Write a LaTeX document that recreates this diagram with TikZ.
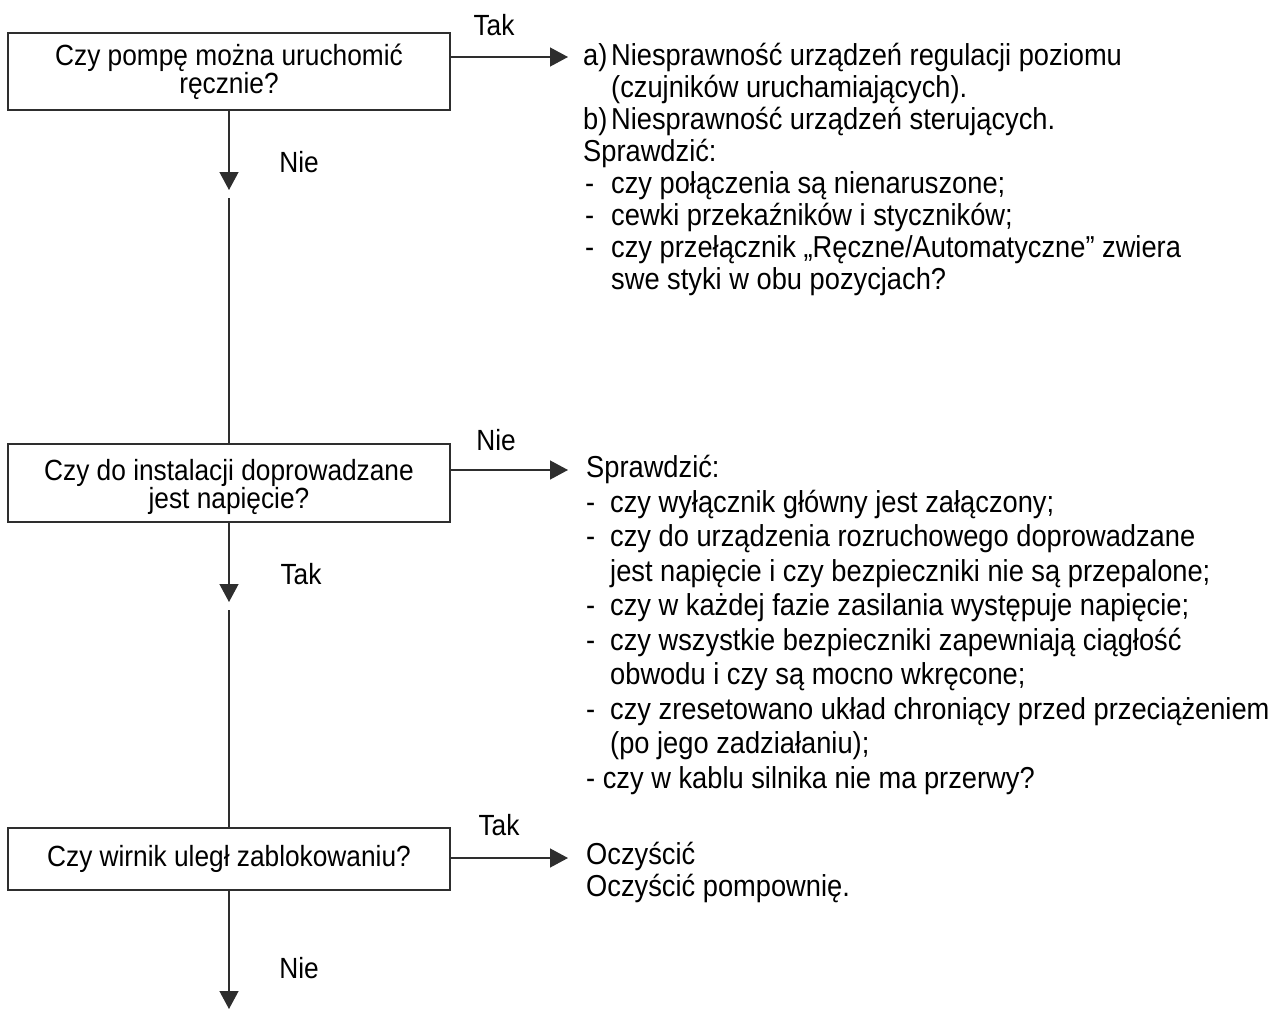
\documentclass[tikz,border=0pt]{standalone}
\usepackage{fontspec}
\setmainfont[FakeStretch=0.9]{Liberation Sans}
\usetikzlibrary{arrows.meta}
\newcommand\myfs{\fontsize{29.2}{28}\selectfont}
\newcommand\myrfs{\fontsize{30.3}{28}\selectfont}
\begin{document}
\begin{tikzpicture}[x=1pt,y=-1pt,
  ln/.style={draw=black!82, line width=1.3pt},
  arr/.style={ln, -{Triangle[length=18pt 0, width=19pt 0]}},
  box/.style={draw=black!82, line width=1.3pt, minimum width=442pt, inner sep=0pt, align=center, font=\myfs, text=black},
  boxtext/.style={inner sep=0pt, align=center, font=\myfs, text=black},
  txt/.style={anchor=mid west, inner sep=0pt, font=\myrfs, text=black},
  lab/.style={anchor=center, inner sep=0pt, font=\myfs, text=black}
]
\useasboundingbox (0,0) rectangle (1272,1010);

% boxes
\node[box, minimum height=77pt] (b1) at (229,71.5) {Czy pompę można uruchomić\\ręcznie?};
\node[box, minimum height=78pt] (b2) at (229,483) {};
\node[boxtext] (b2t) at (229,487) {Czy do instalacji doprowadzane\\jest napięcie?};
\node[box, minimum height=62pt] (b3) at (229,859) {Czy wirnik uległ zablokowaniu?};

% coordinates
\coordinate (t1) at (568,57);
\coordinate (t2) at (568,470);
\coordinate (t3) at (568,858);
\coordinate (d1) at (229,190);
\coordinate (r1) at (229,198);
\coordinate (d2) at (229,602);
\coordinate (r2) at (229,610);
\coordinate (d3) at (229,1009);

% connectors
\draw[arr] (b1.east |- t1) -- (t1);
\draw[arr] (b2.east |- t2) -- (t2);
\draw[arr] (b3.east |- t3) -- (t3);
\draw[arr] (b1.south) -- (d1);
\draw[ln] (r1) -- (b2.north);
\draw[arr] (b2.south) -- (d2);
\draw[ln] (r2) -- (b3.north);
\draw[arr] (b3.south) -- (d3);

% labels
\node[lab] (l1) at (494,25) {Tak};
\node[lab] (l2) at (299,162) {Nie};
\node[lab] (l3) at (496,440) {Nie};
\node[lab] (l4) at (301,574) {Tak};
\node[lab] (l5) at (499,825) {Tak};
\node[lab] (l6) at (299,968) {Nie};

% block 1
\node[txt] (a1) at (583,63) {a)};
\node[txt] (a1t) at (611,63) {Niesprawność urządzeń regulacji poziomu};
\node[txt] (a2) at (611,95) {(czujników uruchamiających).};
\node[txt] (a3) at (583,127) {b)};
\node[txt] (a3t) at (611,127) {Niesprawność urządzeń sterujących.};
\node[txt] (a4) at (583,159) {Sprawdzić:};
\node[txt] (a5) at (585,191) {-};
\node[txt] (a5t) at (611,191) {czy połączenia są nienaruszone;};
\node[txt] (a6) at (585,223) {-};
\node[txt] (a6t) at (611,223) {cewki przekaźników i styczników;};
\node[txt] (a7) at (585,255) {-};
\node[txt] (a7t) at (611,255) {czy przełącznik „Ręczne/Automatyczne” zwiera};
\node[txt] (a8) at (611,287) {swe styki w obu pozycjach?};

% block 2
\node[txt] (c1) at (586,475) {Sprawdzić:};
\node[txt] (c2) at (586,509.5) {-};
\node[txt] (c2t) at (610,509.5) {czy wyłącznik główny jest załączony;};
\node[txt] (c3) at (586,544) {-};
\node[txt] (c3t) at (610,544) {czy do urządzenia rozruchowego doprowadzane};
\node[txt] (c4) at (610,578.5) {jest napięcie i czy bezpieczniki nie są przepalone;};
\node[txt] (c5) at (586,613) {-};
\node[txt] (c5t) at (610,613) {czy w każdej fazie zasilania występuje napięcie;};
\node[txt] (c6) at (586,647.5) {-};
\node[txt] (c6t) at (610,647.5) {czy wszystkie bezpieczniki zapewniają ciągłość};
\node[txt] (c7) at (610,682) {obwodu i czy są mocno wkręcone;};
\node[txt] (c8) at (586,716.5) {-};
\node[txt] (c8t) at (610,716.5) {czy zresetowano układ chroniący przed przeciążeniem};
\node[txt] (c9) at (610,751) {(po jego zadziałaniu);};
\node[txt] (c10) at (586,785.5) {- czy w kablu silnika nie ma przerwy?};

% block 3
\node[txt] (e1) at (586,862) {Oczyścić};
\node[txt] (e2) at (586,894) {Oczyścić pompownię.};
\end{tikzpicture}
\end{document}
